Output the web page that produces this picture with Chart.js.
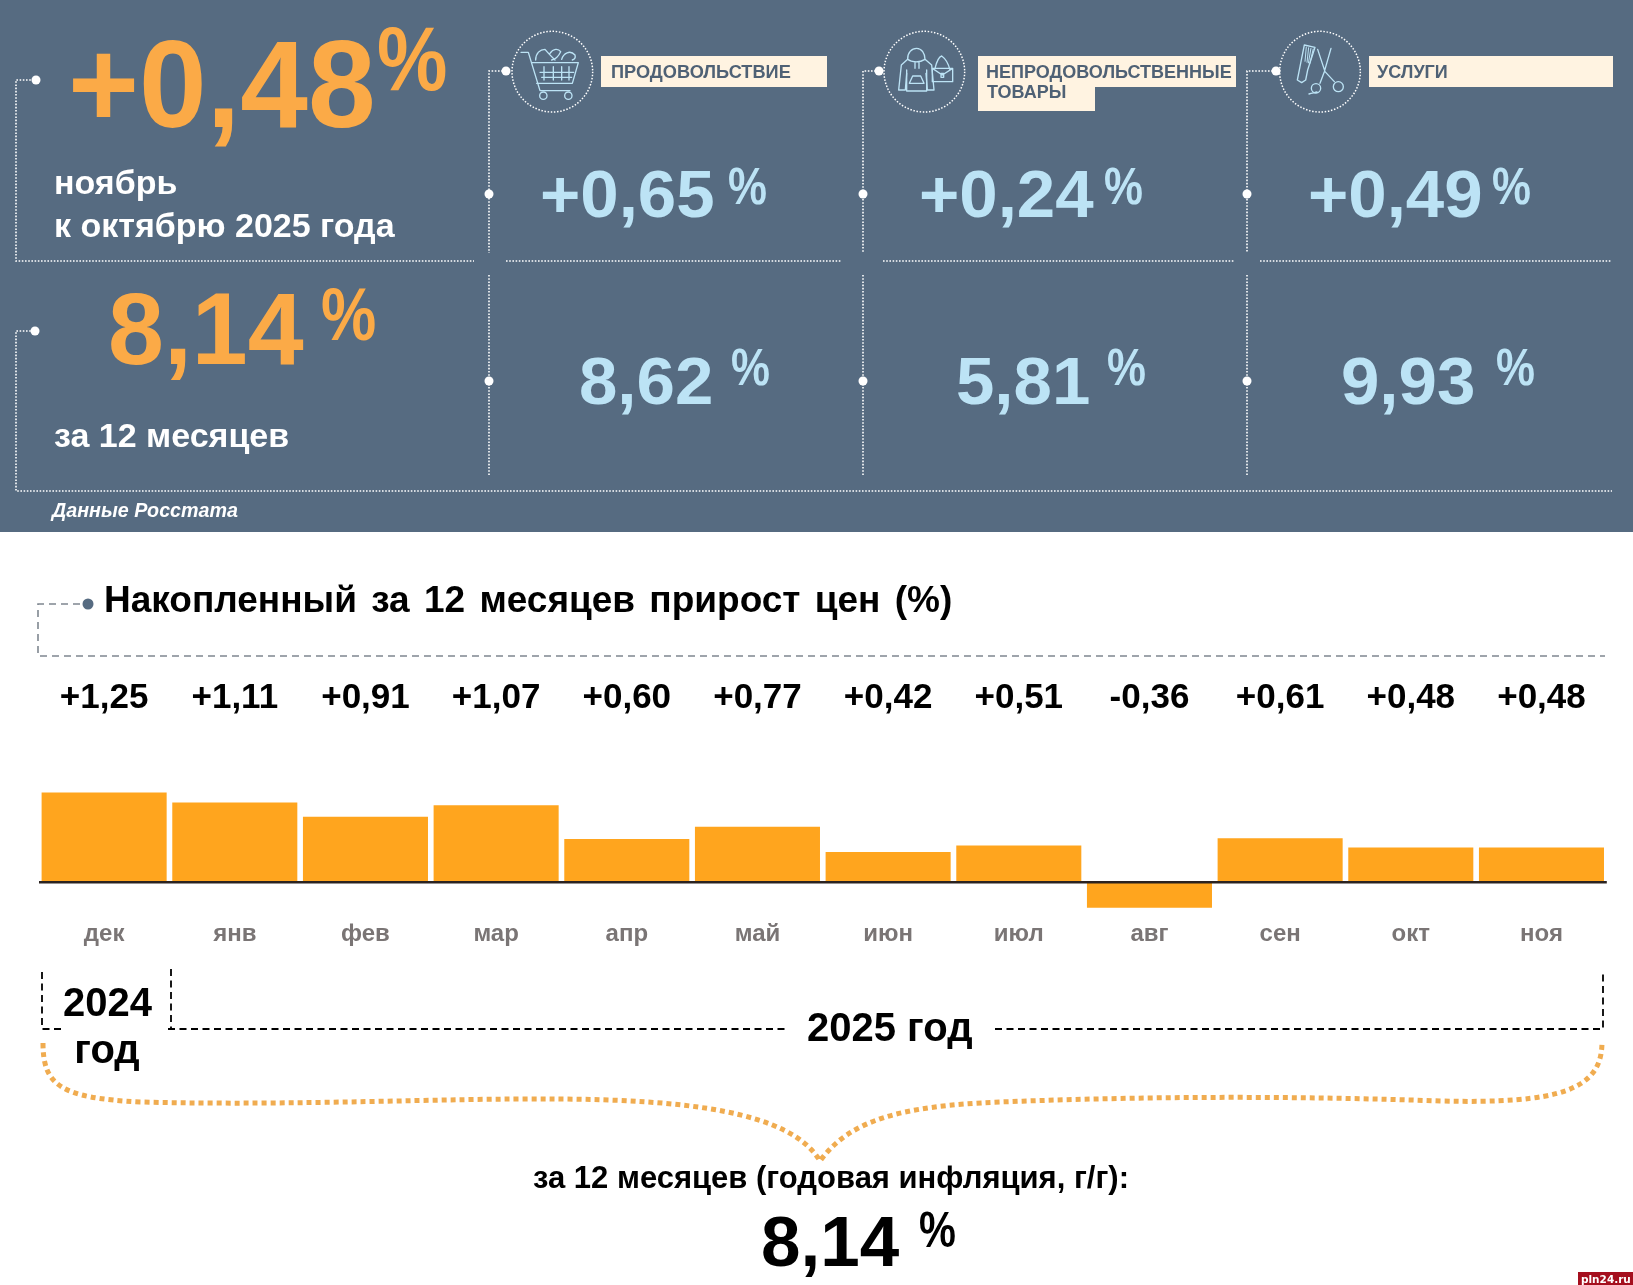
<!DOCTYPE html>
<html lang="ru"><head><meta charset="utf-8">
<script src="https://cdn.jsdelivr.net/npm/chart.js@4/dist/chart.umd.min.js"></script>
<style>
html,body{margin:0;padding:0;background:#fff;width:1633px;height:1285px;overflow:hidden}
#c{position:absolute;left:0;top:0;width:1633px;height:1285px}
#o{position:absolute;left:0;top:0}
text{font-family:"Liberation Sans",Arial,sans-serif;font-weight:700}
</style></head><body>
<canvas id="c" width="1633" height="1285"></canvas>
<svg id="o" width="1633" height="1285" viewBox="0 0 1633 1285" xmlns="http://www.w3.org/2000/svg"></svg>
<script>
const months = ['дек','янв','фев','мар','апр','май','июн','июл','авг','сен','окт','ноя'];
const monthly = [1.25,1.11,0.91,1.07,0.60,0.77,0.42,0.51,-0.36,0.61,0.48,0.48];
const monthlyLabels = ['+1,25','+1,11','+0,91','+1,07','+0,60','+0,77','+0,42','+0,51','-0,36','+0,61','+0,48','+0,48'];
const monthGroupValues = ['+0,65','+0,24','+0,49'];
const yearGroupValues = ['8,62','5,81','9,93'];

const NS='http://www.w3.org/2000/svg', svg=document.getElementById('o');
function el(n,a,p){const e=document.createElementNS(NS,n);for(const k in a)e.setAttribute(k,a[k]);(p||svg).appendChild(e);return e;}
function T(s,x,y,size,fill,sx,extra){
  const e=el('text',Object.assign({x,y,'font-size':size,fill},extra||{}));e.textContent=s;
  if(sx&&sx!==1){const w=e.getComputedTextLength();e.setAttribute('textLength',(w*sx).toFixed(1));e.setAttribute('lengthAdjust','spacingAndGlyphs');}
  return e;
}
const PANEL='#566b81',ORANGE='#fbaa47',BLUE='#bce3f5',CREAM='#fff3e1',SLATE='#4f6175';

el('rect',{x:0,y:0,width:1633,height:532,fill:PANEL});
const dot={stroke:'#fff','stroke-width':1.6,fill:'none','stroke-dasharray':'1.6 1.6'};
function L(d,st){el('path',Object.assign({d},st||dot));}
L('M34 80H16V261H474');
L('M34 331H16V491H1612');
L('M506 261H842');L('M883 261H1234');L('M1260 261H1612');
L('M506 71H489V253');L('M489 275V476');
L('M879 71H863V253');L('M863 275V476');
L('M1276 71H1247V253');L('M1247 275V476');
[[36,80],[35,331],[506,71],[489,194],[489,381],[879,71],[863,194],[863,381],[1276,71],[1247,194],[1247,381]]
 .forEach(p=>el('circle',{cx:p[0],cy:p[1],r:4.5,fill:'#fff'}));

// icons, drawn in 3x crop coordinates
function icon(ox,oy,cx,paths,sw){
  const g=el('g',{transform:`translate(${ox} ${oy}) scale(${1/3})`});
  el('circle',{cx,cy:155,r:121,fill:'none',stroke:'#fff','stroke-width':4.5,'stroke-dasharray':'4.5 5'},g);
  paths.forEach(d=>el('path',{d,fill:'none',stroke:BLUE,'stroke-width':sw||4,'stroke-linejoin':'round','stroke-linecap':'round'},g));
  return g;
}
const ring=(cx,cy,r)=>`M${cx-r} ${cy}a${r} ${r} 0 1 0 ${2*r} 0a${r} ${r} 0 1 0 ${-2*r} 0`;
icon(495,20,172,[
 'M78 97H100L135 212H225','M110 128H250L232 190H125',
 'M147 140V180M175 140V180M200 140V180M222 140V180M135 157H236M140 172H230',
 'M122 120C122 100 135 88 150 88C160 100 172 112 180 120M165 100C175 85 190 85 197 95C190 110 180 118 170 120M200 118C205 100 225 88 240 105C242 112 238 118 232 120',
 ring(145,227,11),ring(220,227,11)
]);
icon(870,20,163,[
 'M113 118C112 98 125 85 140 85C155 85 165 100 165 118L185 135L192 210H172L168 160',
 'M113 118L94 135L86 210H106L110 160','M110 150V213H170V150',
 'M113 118C125 128 150 128 165 118M135 125V145M147 125V145M118 190L128 168H152L162 190Z',
 'M195 145C200 125 208 110 215 108C225 115 235 130 240 150M187 145H248V185H187ZM187 145L217 165L248 145M213 160H221V172H213Z'
]);
icon(1265,20,165,[
 'M118 75L150 82L128 150L122 180L110 188L97 180L105 140Z',
 'M158 88L180 155L208 185M198 85L178 155L165 190',
 'M132 222C142 219 150 218 156 216',ring(153,205,14),ring(220,200,15)
]);
const teeth=el('path',{d:'M124 80L120 125M131 82L126 128M138 84L130 130M145 86L134 132',fill:'none',stroke:BLUE,'stroke-width':3});
teeth.setAttribute('transform','translate(1265 20) scale(.3333)');

// top panel text
T('+0,48',68,127,124,ORANGE,0.98);
T('%',377,90,90,ORANGE,0.88);
T('ноябрь',54,194,34,'#fff');
T('к октябрю 2025 года',54,237,34,'#fff');
T('8,14',108,364,102,ORANGE,0.985);
T('%',321,340,74,ORANGE,0.84);
T('за 12 месяцев',54,447,34,'#fff');
T('Данные Росстата',52,517,20,'#fff',0.985,{'font-style':'italic'});

[[601,827],[978,1236],[1369,1613]].forEach(b=>el('rect',{x:b[0],y:56,width:b[1]-b[0],height:31,fill:CREAM}));
el('rect',{x:978,y:87,width:117,height:24,fill:CREAM});
T('ПРОДОВОЛЬСТВИЕ',611,78,18,SLATE,1.01);
T('НЕПРОДОВОЛЬСТВЕННЫЕ',986,78,18,SLATE);
T('ТОВАРЫ',987,98,18,SLATE);
T('УСЛУГИ',1377,78,18,SLATE);

[[540,728],[919,1104],[1308,1492]].forEach((p,i)=>{
  T(monthGroupValues[i],p[0],217,67,BLUE,1.03);
  T('%',p[1],204,51,BLUE,0.86);
});
[[579,731],[956,1107],[1341,1496]].forEach((p,i)=>{
  T(yearGroupValues[i],p[0],404,67,BLUE,1.03);
  T('%',p[1],385,51,BLUE,0.86);
});

// lower heading
const dash={stroke:'#7f8790','stroke-width':1.6,fill:'none','stroke-dasharray':'7 5'};
L('M80 604H38V656H1605',dash);
el('circle',{cx:88,cy:604,r:5.5,fill:PANEL});
T('Накопленный за 12 месяцев прирост цен (%)',104,612,37,'#000',1,{'word-spacing':'4'});

// year brackets
const blk={stroke:'#000','stroke-width':1.8,fill:'none','stroke-dasharray':'7 4.5'};
L('M42 972V1029H63',blk);L('M171 969V1029',blk);L('M168 1029H787',blk);L('M995 1029H1603V970',blk);
T('2024',63,1016,40,'#000');
T('год',107,1063,40,'#000',1,{'text-anchor':'middle'});
T('2025 год',807,1041,40,'#000');

el('path',{d:'M43 1043C43 1085 60 1098 140 1102C300 1106 440 1098 560 1099C680 1100 790 1110 820 1161C850 1120 900 1106 1000 1102C1150 1096 1300 1096 1440 1101C1560 1104 1602 1090 1602 1042',
  fill:'none',stroke:'#f0ac50','stroke-width':5,'stroke-dasharray':'5 4'});

T('за 12 месяцев (годовая инфляция, г/г):',533,1188,31,'#000');
T('8,14',761,1266,71,'#000');
T('%',919,1247,50,'#000',0.83);

el('rect',{x:1578,y:1272,width:55,height:13,fill:'#a50f1e'});
T('pln24.ru',1581,1283,10.5,'#fff',1,{style:'font-family:"DejaVu Sans"'});

// chart geometry: 71.7 px per percentage point, zero line at y=882
const ppu=71.7, ZERO=882, yMin=-0.4, yMax=1.5;
const TOP=ZERO-yMax*ppu, BOTTOM=ZERO-yMin*ppu, X2H=105, XH=40;
Chart.defaults.font.family='"Liberation Sans",Arial,sans-serif';
const zeroPad=s=>{s.paddingLeft=0;s.paddingRight=0;};
new Chart(document.getElementById('c'),{
  type:'bar',
  data:{labels:months,datasets:[{data:monthly,xAxisID:'x',yAxisID:'y',backgroundColor:'#ffa51e',barPercentage:0.957,categoryPercentage:1,borderWidth:0}]},
  options:{
    responsive:false,animation:false,devicePixelRatio:1,
    layout:{padding:{left:38.8,right:26.2,top:TOP-X2H,bottom:1285-BOTTOM-XH}},
    plugins:{legend:{display:false},tooltip:{enabled:false}},
    scales:{
      x:{type:'category',position:'bottom',offset:true,grid:{display:false},border:{display:false},
         afterFit:s=>{s.height=XH;zeroPad(s);},
         ticks:{autoSkip:false,maxRotation:0,padding:1,color:'#7a7575',font:{size:24,weight:'bold'}}},
      x2:{type:'category',labels:monthlyLabels,position:'top',offset:true,grid:{display:false},border:{display:false},
         afterFit:s=>{s.height=X2H;zeroPad(s);},
         ticks:{autoSkip:false,maxRotation:0,padding:47.5,color:'#000',font:{size:35,weight:'bold'}}},
      y:{min:yMin,max:yMax,afterFit:s=>{s.width=0;},border:{display:false},
         ticks:{display:false,stepSize:0.1},
         grid:{z:1,drawTicks:false,lineWidth:2.4,color:c=>Math.abs(c.tick.value)<1e-6?'#2b2320':'rgba(0,0,0,0)'}}
    }
  }
});
</script></body></html>
